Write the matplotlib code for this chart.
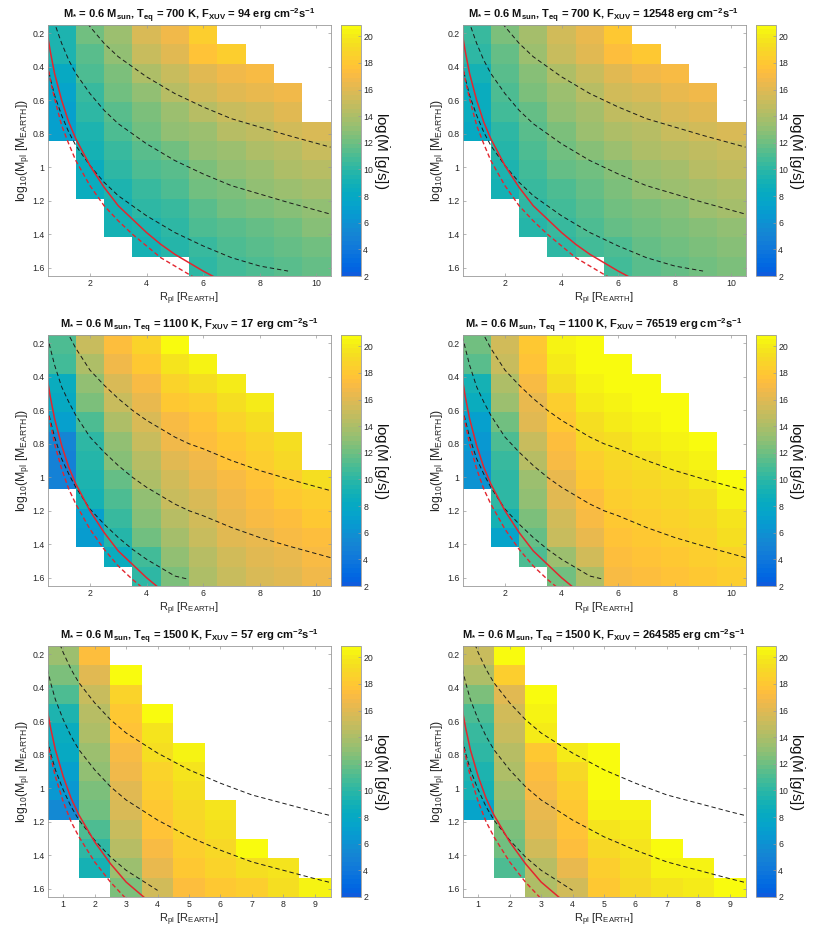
import numpy as np
import matplotlib
matplotlib.use('Agg')
from matplotlib import pyplot as plt
from matplotlib.colors import ListedColormap

nan = np.nan

# ---- grid (cell centres) ----
radius_10 = [1, 2, 3, 4, 5, 6, 7, 8, 9, 10]
radius_9 = [1, 2, 3, 4, 5, 6, 7, 8, 9]
log_mass = [0.208, 0.323, 0.438, 0.554, 0.669, 0.785, 0.900,
            1.015, 1.131, 1.246, 1.362, 1.477, 1.592]

# ---- panel parameters ----
teq = [700, 700, 1100, 1100, 1500, 1500]
fxuv = [94, 12548, 17, 76519, 57, 264585]

# ---- log(Mdot) (rows: top -> bottom, cols: R = 1..) ----
mdot_700_94 = [
    [9.5, 12.0, 13.5, 15.7, 16.7, 18.4, nan, nan, nan, nan],
    [9.3, 11.5, 13.0, 15.0, 16.0, 17.6, 18.4, nan, nan, nan],
    [8.0, 11.0, 12.5, 14.0, 15.0, 16.0, 16.8, 17.0, nan, nan],
    [7.5, 10.5, 12.0, 13.0, 14.5, 15.3, 16.0, 16.5, 16.8, nan],
    [7.2, 10.0, 11.5, 12.5, 13.5, 14.5, 15.0, 15.5, 16.0, nan],
    [7.0, 9.5, 11.0, 12.0, 13.0, 13.5, 14.3, 14.8, 15.3, 15.8],
    [nan, 9.0, 10.5, 11.5, 12.0, 13.0, 13.5, 14.0, 14.5, 15.0],
    [nan, 8.5, 10.0, 11.0, 11.5, 12.5, 13.0, 13.5, 14.0, 14.5],
    [nan, 8.3, 9.5, 10.5, 11.0, 12.0, 12.5, 13.0, 13.3, 13.8],
    [nan, nan, 9.2, 10.0, 10.5, 11.3, 12.0, 12.3, 12.8, 13.2],
    [nan, nan, 9.0, 9.5, 10.2, 11.0, 11.3, 11.8, 12.2, 12.6],
    [nan, nan, nan, 9.2, 9.8, 10.5, 11.0, 11.3, 11.8, 12.1],
    [nan, nan, nan, nan, nan, 10.2, 10.6, 11.0, 11.3, 11.7],
]
mdot_700_12548 = [
    [10.3, 12.3, 13.8, 15.5, 16.5, 18.0, nan, nan, nan, nan],
    [10.0, 11.8, 13.3, 15.0, 16.0, 17.3, 18.0, nan, nan, nan],
    [9.0, 11.3, 12.8, 14.2, 15.2, 16.0, 16.7, 17.0, nan, nan],
    [8.6, 11.0, 12.3, 13.5, 14.5, 15.3, 15.8, 16.3, 16.8, nan],
    [8.4, 10.6, 11.8, 13.0, 13.8, 14.6, 15.2, 15.6, 16.0, nan],
    [8.2, 10.2, 11.4, 12.5, 13.3, 14.0, 14.5, 15.0, 15.4, 15.8],
    [nan, 9.8, 11.0, 12.0, 12.7, 13.4, 14.0, 14.4, 14.8, 15.2],
    [nan, 9.5, 10.7, 11.6, 12.2, 12.9, 13.4, 13.9, 14.3, 14.7],
    [nan, 9.2, 10.4, 11.2, 11.8, 12.4, 13.0, 13.4, 13.8, 14.2],
    [nan, nan, 10.0, 10.8, 11.4, 12.0, 12.5, 12.9, 13.3, 13.7],
    [nan, nan, 9.7, 10.5, 11.0, 11.6, 12.1, 12.5, 12.9, 13.2],
    [nan, nan, nan, 10.2, 10.7, 11.2, 11.7, 12.1, 12.5, 12.8],
    [nan, nan, nan, nan, nan, 10.9, 11.3, 11.7, 12.1, 12.4],
]
mdot_1100_17 = [
    [11.0, 15.0, 17.5, 18.7, 20.8, nan, nan, nan, nan, nan],
    [10.8, 14.0, 16.7, 17.9, 19.6, 20.2, nan, nan, nan, nan],
    [8.5, 13.0, 15.7, 17.2, 18.7, 19.2, 20.0, nan, nan, nan],
    [8.2, 12.5, 15.0, 16.3, 18.0, 18.4, 19.3, 20.0, nan, nan],
    [7.0, 11.2, 14.2, 15.6, 17.2, 17.8, 18.7, 19.3, nan, nan],
    [5.0, 10.2, 13.2, 15.0, 16.6, 17.3, 18.2, 18.8, 19.5, nan],
    [4.8, 9.8, 12.6, 14.5, 16.0, 16.8, 17.7, 18.3, 19.0, nan],
    [4.8, 9.5, 11.8, 14.0, 15.5, 16.3, 17.2, 17.8, 18.4, 19.2],
    [nan, 9.2, 11.2, 13.2, 15.0, 15.8, 16.8, 17.3, 17.9, 18.5],
    [nan, 7.2, 10.3, 12.6, 14.5, 15.4, 16.3, 16.9, 17.4, 18.0],
    [nan, 6.8, 9.7, 12.0, 13.7, 14.9, 15.9, 16.5, 17.0, 17.5],
    [nan, nan, 8.6, 10.7, 13.0, 14.5, 15.4, 16.0, 16.5, 17.0],
    [nan, nan, nan, 10.0, 12.5, 14.0, 15.0, 15.6, 16.1, 16.6],
]
mdot_1100_76519 = [
    [12.0, 15.5, 18.0, 20.5, 20.8, nan, nan, nan, nan, nan],
    [11.5, 15.0, 17.8, 20.0, 20.8, 20.8, nan, nan, nan, nan],
    [9.0, 14.0, 17.0, 19.5, 20.5, 20.8, 20.8, nan, nan, nan],
    [8.5, 13.5, 16.5, 18.5, 20.0, 20.5, 20.8, 20.8, nan, nan],
    [7.0, 12.0, 16.0, 18.0, 19.5, 20.0, 20.5, 20.8, nan, nan],
    [6.5, 11.0, 15.0, 17.5, 19.0, 19.5, 20.0, 20.5, 20.8, nan],
    [6.0, 10.5, 14.5, 17.0, 18.5, 19.0, 19.5, 20.0, 20.5, nan],
    [6.0, 10.2, 13.5, 16.5, 18.0, 18.7, 19.0, 19.5, 20.0, 20.8],
    [nan, 10.0, 13.0, 16.0, 17.5, 18.3, 18.7, 19.0, 19.5, 20.3],
    [nan, 9.0, 12.3, 15.5, 17.0, 18.0, 18.3, 18.7, 19.0, 19.7],
    [nan, 7.5, 11.7, 15.0, 16.5, 17.8, 18.0, 18.4, 18.7, 19.3],
    [nan, nan, 11.0, 13.5, 15.5, 17.5, 17.8, 18.1, 18.4, 18.8],
    [nan, nan, nan, 12.0, 14.0, 17.0, 17.5, 17.8, 18.0, 18.3],
]
mdot_1500_57 = [
    [13.5, 17.5, nan, nan, nan, nan, nan, nan, nan],
    [12.5, 16.0, 20.8, nan, nan, nan, nan, nan, nan],
    [11.0, 15.0, 18.8, nan, nan, nan, nan, nan, nan],
    [9.5, 14.5, 18.2, 20.8, nan, nan, nan, nan, nan],
    [8.5, 14.0, 17.7, 19.8, nan, nan, nan, nan, nan],
    [8.0, 13.5, 17.2, 19.3, 20.3, nan, nan, nan, nan],
    [7.0, 13.0, 16.7, 18.8, 19.8, nan, nan, nan, nan],
    [6.5, 12.5, 16.2, 18.4, 19.4, nan, nan, nan, nan],
    [5.5, 12.0, 15.7, 18.0, 19.0, 19.6, nan, nan, nan],
    [nan, 11.0, 15.0, 17.6, 18.6, 19.2, nan, nan, nan],
    [nan, 10.0, 14.3, 17.1, 18.3, 19.0, 20.6, nan, nan],
    [nan, 9.0, 13.5, 16.5, 18.0, 18.7, 19.3, 19.8, nan],
    [nan, nan, 12.5, 15.3, 17.3, 18.2, 18.5, 19.3, 20.2],
]
mdot_1500_264585 = [
    [15.0, 20.8, nan, nan, nan, nan, nan, nan, nan],
    [14.0, 18.5, nan, nan, nan, nan, nan, nan, nan],
    [12.5, 16.0, 20.8, nan, nan, nan, nan, nan, nan],
    [11.0, 15.5, 20.3, nan, nan, nan, nan, nan, nan],
    [10.5, 15.0, 20.0, nan, nan, nan, nan, nan, nan],
    [10.0, 14.5, 18.0, 20.0, 20.8, nan, nan, nan, nan],
    [9.5, 14.0, 17.5, 19.0, 20.8, nan, nan, nan, nan],
    [9.0, 13.5, 17.0, 18.5, 20.8, nan, nan, nan, nan],
    [7.5, 13.0, 16.5, 18.2, 20.3, 20.3, nan, nan, nan],
    [nan, 12.5, 16.0, 17.8, 19.7, 20.0, nan, nan, nan],
    [nan, 12.0, 15.5, 17.3, 19.0, 19.6, 20.8, nan, nan],
    [nan, 11.0, 14.5, 16.5, 18.5, 19.2, 20.2, 20.5, nan],
    [nan, nan, 14.0, 15.5, 18.0, 19.0, 19.8, 20.0, 20.8],
]
panels = [mdot_700_94, mdot_700_12548, mdot_1100_17,
          mdot_1100_76519, mdot_1500_57, mdot_1500_264585]

# ---- overplotted curves, y = log10(M) read at these radii ----
curve_r = [0.5, 0.6, 0.75, 1.0, 1.25, 1.5, 2.0, 2.5, 3.0, 3.5,
           4.0, 4.5, 5.0, 5.5, 6.0, 7.0, 8.0, 9.0, 10.5]
curves = {
    700: {
        'upper': [-0.44, -0.36, -0.27, -0.14, -0.04, 0.04, 0.16, 0.26, 0.34, 0.40,
                  0.46, 0.51, 0.56, 0.60, 0.64, 0.71, 0.76, 0.81, 0.88],
        'mid': [-0.04, 0.04, 0.14, 0.26, 0.36, 0.44, 0.56, 0.66, 0.74, 0.80,
                0.86, 0.91, 0.96, 1.00, 1.04, 1.11, 1.16, 1.21, 1.28],
        'low': [0.39, 0.47, 0.57, 0.69, 0.79, 0.87, 0.99, 1.09, 1.17, 1.23,
                1.29, 1.34, 1.39, 1.43, 1.47, 1.54, 1.59, 1.62, nan],
        'red': [0.21, 0.31, 0.44, 0.60, 0.73, 0.83, 0.99, 1.12, 1.23, 1.31,
                1.39, 1.46, 1.52, 1.57, 1.62, 1.71, 1.78, 1.85, 1.94],
        'red_dash': [0.38, 0.48, 0.59, 0.75, 0.86, 0.96, 1.11, 1.23, 1.32, 1.40,
                     1.47, 1.54, 1.59, 1.64, 1.69, 1.77, 1.84, 1.90, 1.98],
    },
    1100: {
        'upper': [-0.25, -0.17, -0.07, 0.06, 0.15, 0.23, 0.36, 0.45, 0.53, 0.60,
                  0.66, 0.71, 0.76, 0.80, 0.83, 0.90, 0.96, 1.01, 1.08],
        'mid': [0.16, 0.23, 0.33, 0.46, 0.55, 0.63, 0.76, 0.85, 0.93, 1.00,
                1.06, 1.11, 1.16, 1.20, 1.23, 1.30, 1.36, 1.41, 1.48],
        'low': [0.59, 0.66, 0.76, 0.89, 0.98, 1.06, 1.19, 1.28, 1.36, 1.43,
                1.49, 1.54, 1.59, 1.61, nan, nan, nan, nan, nan],
        'red': [0.42, 0.52, 0.65, 0.81, 0.94, 1.04, 1.20, 1.33, 1.44, 1.52,
                1.60, 1.67, 1.73, 1.78, 1.83, 1.92, 1.99, 2.06, 2.15],
        'red_dash': [0.59, 0.68, 0.80, 0.95, 1.07, 1.16, 1.31, 1.43, 1.53, 1.61,
                     1.68, 1.74, 1.80, 1.85, 1.89, 1.97, 2.04, 2.10, 2.19],
    },
    1500: {
        'upper': [-0.11, -0.03, 0.07, 0.19, 0.29, 0.37, 0.49, 0.59, 0.67, 0.73,
                  0.79, 0.84, 0.89, 0.93, 0.97, 1.04, 1.09, 1.14, 1.21],
        'mid': [0.29, 0.37, 0.47, 0.59, 0.69, 0.77, 0.89, 0.99, 1.07, 1.13,
                1.19, 1.24, 1.29, 1.33, 1.37, 1.44, 1.49, 1.54, 1.61],
        'low': [0.71, 0.79, 0.89, 1.01, 1.11, 1.19, 1.31, 1.41, 1.49, 1.55,
                1.61, nan, nan, nan, nan, nan, nan, nan, nan],
        'red': [0.54, 0.64, 0.77, 0.93, 1.06, 1.16, 1.32, 1.45, 1.56, 1.64,
                1.72, 1.79, 1.85, 1.90, 1.95, 2.04, 2.11, 2.18, 2.27],
        'red_dash': [0.72, 0.81, 0.93, 1.08, 1.20, 1.29, 1.44, 1.56, 1.66, 1.74,
                     1.81, 1.87, 1.93, 1.98, 2.02, 2.10, 2.17, 2.23, 2.32],
    },
}

# MATLAB parula (R2017a+, 64 entries)
parula = [
    [0.2081, 0.1663, 0.5292], [0.2116, 0.1898, 0.5777], [0.2123, 0.2138, 0.6270],
    [0.2081, 0.2386, 0.6771], [0.1959, 0.2645, 0.7279], [0.1707, 0.2919, 0.7792],
    [0.1253, 0.3242, 0.8303], [0.0591, 0.3598, 0.8683], [0.0117, 0.3875, 0.8820],
    [0.0060, 0.4086, 0.8828], [0.0165, 0.4266, 0.8786], [0.0329, 0.4430, 0.8720],
    [0.0498, 0.4586, 0.8641], [0.0629, 0.4737, 0.8554], [0.0723, 0.4887, 0.8467],
    [0.0779, 0.5040, 0.8384], [0.0793, 0.5200, 0.8312], [0.0749, 0.5375, 0.8263],
    [0.0641, 0.5570, 0.8240], [0.0488, 0.5772, 0.8228], [0.0343, 0.5966, 0.8199],
    [0.0265, 0.6137, 0.8135], [0.0239, 0.6287, 0.8038], [0.0231, 0.6418, 0.7913],
    [0.0228, 0.6535, 0.7768], [0.0267, 0.6642, 0.7607], [0.0384, 0.6743, 0.7436],
    [0.0590, 0.6838, 0.7254], [0.0843, 0.6928, 0.7062], [0.1133, 0.7015, 0.6859],
    [0.1453, 0.7098, 0.6646], [0.1801, 0.7177, 0.6424], [0.2178, 0.7250, 0.6193],
    [0.2586, 0.7317, 0.5954], [0.3022, 0.7376, 0.5712], [0.3482, 0.7424, 0.5473],
    [0.3953, 0.7459, 0.5244], [0.4420, 0.7481, 0.5033], [0.4871, 0.7491, 0.4840],
    [0.5300, 0.7491, 0.4661], [0.5709, 0.7485, 0.4494], [0.6099, 0.7473, 0.4337],
    [0.6473, 0.7456, 0.4188], [0.6834, 0.7435, 0.4044], [0.7184, 0.7411, 0.3905],
    [0.7525, 0.7384, 0.3768], [0.7858, 0.7356, 0.3633], [0.8185, 0.7327, 0.3498],
    [0.8507, 0.7299, 0.3360], [0.8824, 0.7274, 0.3217], [0.9139, 0.7258, 0.3063],
    [0.9450, 0.7261, 0.2886], [0.9739, 0.7314, 0.2666], [0.9938, 0.7455, 0.2403],
    [0.9990, 0.7653, 0.2164], [0.9955, 0.7861, 0.1967], [0.9880, 0.8066, 0.1794],
    [0.9789, 0.8271, 0.1633], [0.9697, 0.8481, 0.1475], [0.9626, 0.8705, 0.1309],
    [0.9589, 0.8949, 0.1132], [0.9598, 0.9218, 0.0948], [0.9661, 0.9514, 0.0755],
    [0.9763, 0.9831, 0.0538],
]
cmap = ListedColormap(parula[7:])

plt.rcParams['font.family'] = ['Liberation Sans', 'DejaVu Sans']
plt.rcParams['mathtext.fontset'] = 'custom'
plt.rcParams['mathtext.rm'] = 'Liberation Sans'
plt.rcParams['mathtext.it'] = 'Liberation Sans:italic'
plt.rcParams['mathtext.bf'] = 'Liberation Sans:bold'
plt.rcParams['mathtext.default'] = 'regular'

W, H = 830, 934
fig = plt.figure(figsize=(W / 100, H / 100), dpi=100)

col_left = [47.5, 462.5]
row_top = [25, 335, 646]
ax_w, ax_h = 283, 251
txt = '#262626'
edge = '#9a9a9a'


def px_rect(left, top, w, h):
    return [left / W, 1 - (top + h) / H, w / W, h / H]


for i, data in enumerate(panels):
    row, col = divmod(i, 2)
    ax = fig.add_axes(px_rect(col_left[col], row_top[row], ax_w, ax_h))
    cax = fig.add_axes(px_rect(col_left[col] + 293.5, row_top[row], 19.5, ax_h))

    radius = radius_10 if row < 2 else radius_9
    z = np.ma.masked_invalid(np.array(data))
    mesh = ax.pcolormesh(radius, log_mass, z, cmap=cmap, vmin=2, vmax=20.85,
                         shading='nearest', antialiased=False, linewidth=0)
    xl = ax.get_xlim()
    yl = ax.get_ylim()

    c = curves[teq[i]]
    for key in ['upper', 'mid', 'low']:
        ax.plot(curve_r, c[key], color='#1a1a1a', lw=0.7, ls=(0, (4.5, 3.0)))
    ax.plot(curve_r, c['red'], color='#e3262f', lw=1.1)
    ax.plot(curve_r, c['red_dash'], color='#e3262f', lw=1.0, ls=(0, (3.2, 2.0)))

    ax.set_xlim(xl)
    ax.set_ylim(yl[1], yl[0])
    if row < 2:
        ax.set_xticks([2, 4, 6, 8, 10])
    else:
        ax.set_xticks(radius_9)
    ax.set_yticks([0.2, 0.4, 0.6, 0.8, 1.0, 1.2, 1.4, 1.6])
    ax.set_yticklabels(['0.2', '0.4', '0.6', '0.8', '1', '1.2', '1.4', '1.6'])
    ax.tick_params(direction='in', length=2.5, width=0.5, colors=edge,
                   labelcolor=txt, labelsize=6.3, top=True, right=True, pad=2)
    for s in ax.spines.values():
        s.set_color(edge)
        s.set_linewidth(0.6)

    ax.set_xlabel('R$_{pl}$ [R$_{EARTH}$]', fontsize=8, color=txt, labelpad=2)
    ax.set_ylabel('log$_{10}$(M$_{pl}$ [M$_{EARTH}$])', fontsize=8.8, color=txt,
                  labelpad=1)
    title = (r'M$_{\mathbf{*}}$ = 0.6 M$_{\mathbf{sun}}$, T$_{\mathbf{eq}}$ = %d K, '
             r'F$_{\mathbf{XUV}}$ = %d erg cm$^{\mathbf{-2}}$s$^{\mathbf{-1}}$'
             % (teq[i], fxuv[i]))
    ax.set_title(title, fontsize=8.0, fontweight='bold', color='#111111', pad=4)

    cb = fig.colorbar(mesh, cax=cax, ticks=list(range(2, 21, 2)))
    cb.outline.set_edgecolor(edge)
    cb.outline.set_linewidth(0.6)
    cax.tick_params(direction='in', length=2.5, width=0.5, colors=edge,
                    labelcolor=txt, labelsize=6.3, pad=2)
    cb.set_label(r'log($\dot{M}$ [g/s])', rotation=270, fontsize=11,
                 color='#111111', labelpad=13)

fig.savefig('out.png', dpi=100)
